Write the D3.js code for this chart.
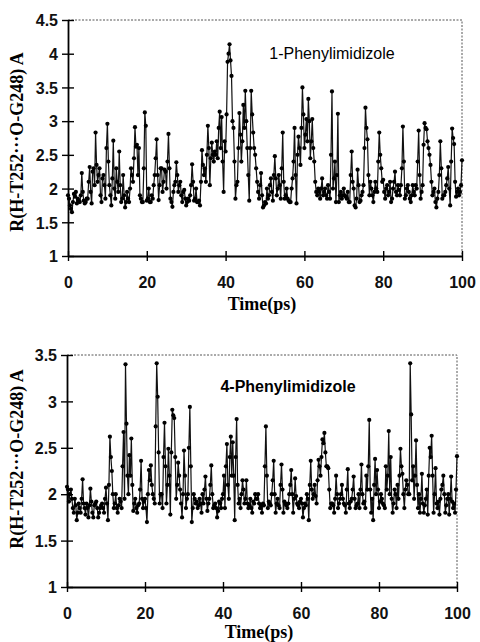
<!DOCTYPE html>
<html>
<head>
<meta charset="utf-8">
<script src="https://cdn.jsdelivr.net/npm/d3@7"></script>
<style>
  html, body { margin: 0; padding: 0; background: #fff; }
  svg { display: block; }
</style>
</head>
<body>
<svg id="chart" width="480" height="642"></svg>
<script>
// ---- Data: samples at t = 0, 0.5, ... 100 ps ("on") and t = 0.25, 0.75, ... 99.75 ps ("mid") ----
const timeStep = 0.5;

const phenyl1 = [
  1.90,1.75,1.65,1.92,1.95,1.85,1.80,2.23,1.82,1.80,
  1.85,2.32,1.78,2.30,2.83,2.10,2.30,1.80,2.20,1.85,
  2.96,2.05,1.75,2.71,1.85,2.10,2.55,1.80,2.20,1.72,
  1.95,1.80,2.30,2.10,2.91,2.65,2.60,1.85,1.80,3.13,
  1.82,2.00,1.80,1.85,2.20,2.73,1.83,2.30,1.95,2.28,
  2.00,2.81,1.85,1.73,2.05,2.39,1.95,2.10,1.80,1.98,
  1.75,1.85,1.90,2.36,1.82,2.00,1.80,1.75,2.57,2.20,
  2.10,2.93,2.05,2.68,2.40,2.50,2.45,3.14,3.06,1.95,
  2.55,3.88,4.14,3.67,2.90,1.85,2.10,3.12,2.40,3.24,
  3.45,2.60,1.82,3.45,2.83,2.50,2.10,1.85,2.23,1.72,
  1.80,2.00,1.90,2.15,1.82,2.48,1.90,2.20,1.85,2.83,
  1.85,2.00,1.82,1.80,2.15,2.90,1.78,2.77,2.35,3.50,
  2.60,3.03,3.33,2.45,3.03,2.40,1.95,2.00,1.85,2.15,
  1.95,1.90,2.05,1.85,3.44,2.15,1.80,3.11,1.90,1.85,
  2.00,1.88,1.95,1.80,2.55,2.00,1.72,2.28,1.80,1.90,
  2.05,3.20,2.73,1.90,2.00,1.80,2.10,1.95,2.83,2.30,
  2.13,1.85,2.05,1.95,1.80,2.00,2.25,1.90,1.98,2.05,
  2.92,1.85,2.00,1.95,1.80,2.05,1.90,2.00,2.86,1.85,
  2.05,2.97,2.88,2.60,2.35,1.90,2.00,1.72,1.95,2.70,
  1.85,1.90,2.05,2.32,1.75,2.89,2.66,1.88,2.00,1.95,
  2.42
];
const phenyl1Mid = [
  1.85,1.70,1.80,1.88,1.78,1.82,1.90,1.95,1.78,1.85,
  2.10,1.95,2.25,2.05,2.35,2.20,1.90,2.15,2.05,2.60,
  2.40,1.90,2.15,2.00,2.30,1.95,2.05,1.85,1.90,1.80,
  1.85,2.00,2.20,2.45,2.62,2.20,1.90,1.80,2.30,2.93,
  1.85,1.80,1.90,2.05,2.45,2.20,2.05,2.30,2.10,2.25,
  2.40,2.30,1.80,1.95,2.10,2.20,2.05,1.90,1.95,1.85,
  1.80,1.82,2.05,2.10,1.85,1.80,1.82,2.10,2.35,2.30,
  2.50,2.60,2.45,2.50,2.55,2.70,2.90,2.60,2.40,2.70,
  3.10,4.00,3.90,3.00,2.40,2.05,2.60,2.80,2.70,2.90,
  3.00,2.20,2.60,3.10,2.60,2.30,1.95,2.05,1.90,1.75,
  1.78,1.85,2.05,1.95,2.20,2.15,2.00,2.05,2.30,2.10,
  1.90,1.85,1.80,2.00,2.40,2.20,2.50,2.60,2.90,3.10,
  2.80,2.70,3.00,2.70,2.60,2.10,1.90,1.95,2.00,1.90,
  2.00,1.85,1.95,2.50,2.00,2.40,2.20,1.80,1.95,1.90,
  1.90,1.85,1.80,2.20,2.10,1.75,1.85,2.05,1.82,1.95,
  2.60,2.90,2.20,2.10,1.90,1.95,2.00,2.40,2.50,2.10,
  1.95,2.00,1.90,2.10,1.85,2.10,1.95,2.05,1.90,2.30,
  2.40,1.90,2.05,1.85,1.90,1.95,2.05,2.40,2.20,1.95,
  2.65,2.90,2.70,2.50,2.10,1.95,1.80,1.85,2.20,2.30,
  1.90,1.95,2.15,2.00,2.40,2.75,2.10,1.95,1.90,2.05
];

const phenyl4 = [
  2.08,1.92,2.05,1.85,1.95,1.72,1.90,1.80,2.16,1.85,
  1.90,1.75,2.06,1.80,1.88,1.92,1.75,1.85,1.90,1.80,
  2.07,1.72,2.62,2.25,1.85,2.00,1.80,1.95,1.85,2.67,
  3.40,2.20,2.42,2.60,1.82,1.95,1.80,1.90,2.36,1.85,
  1.95,1.70,2.26,2.31,2.00,1.90,3.41,2.45,2.00,1.85,
  2.77,1.90,2.49,1.78,2.91,2.82,1.95,2.34,2.05,1.75,
  2.47,1.85,2.00,2.94,1.70,2.00,1.90,1.85,1.95,1.80,
  1.90,2.19,1.82,1.95,2.31,1.85,1.90,1.75,1.92,1.85,
  2.00,1.85,2.54,1.95,2.62,2.56,1.72,2.81,1.90,1.85,
  2.15,1.90,2.15,1.85,1.95,1.80,1.90,1.95,2.00,1.85,
  1.80,1.88,2.73,1.85,1.90,2.00,2.36,1.80,1.95,1.85,
  2.32,1.80,1.90,1.85,2.00,2.26,1.80,2.17,1.90,1.85,
  1.95,1.75,1.90,2.00,1.72,2.36,1.95,2.10,1.90,2.37,
  2.20,2.59,2.66,2.30,2.28,1.85,1.90,1.80,2.20,1.85,
  1.95,2.10,1.90,1.80,2.27,1.85,1.95,2.19,1.85,1.90,
  1.85,2.32,1.90,1.85,2.05,2.80,1.80,1.72,2.38,2.26,
  1.85,2.00,1.90,1.85,2.05,2.68,2.40,1.80,2.05,1.85,
  1.95,2.49,2.22,1.85,2.15,2.00,3.41,2.15,1.95,2.58,
  1.85,1.80,2.22,1.80,1.95,1.78,2.50,2.63,1.80,2.28,
  1.85,1.78,2.05,2.20,1.80,1.95,1.78,2.19,1.85,1.80,
  2.41
];
const phenyl4Mid = [
  2.05,2.00,1.95,1.80,1.88,1.80,1.85,1.95,1.90,1.78,
  1.85,1.88,1.92,1.75,1.90,1.85,1.80,1.88,1.85,1.95,
  1.90,2.10,2.40,2.00,1.90,1.85,1.88,1.92,2.30,1.95,
  2.76,2.00,2.20,2.10,1.90,1.85,1.88,2.05,1.95,1.92,
  1.85,2.00,2.15,2.10,1.95,2.73,3.05,1.90,2.00,2.40,
  2.30,2.10,2.20,2.45,2.85,2.40,2.10,2.20,1.90,2.00,
  2.20,1.95,2.50,2.30,1.85,1.95,1.92,1.88,1.90,2.00,
  2.05,1.95,1.90,2.10,2.00,1.88,1.85,1.82,1.90,1.95,
  2.20,2.30,2.10,2.40,2.20,2.20,2.40,2.10,1.95,2.00,
  2.05,1.95,1.90,1.88,1.85,1.92,2.00,1.95,1.90,1.88,
  1.90,2.30,2.20,1.92,1.88,2.15,2.00,1.90,1.88,2.10,
  2.05,1.92,1.88,1.90,2.10,2.00,1.95,1.98,1.88,1.92,
  1.90,1.85,1.88,1.95,2.10,2.05,2.00,1.98,2.15,2.30,
  2.40,2.55,2.45,2.30,2.05,1.90,1.88,1.95,2.00,1.90,
  2.00,1.95,1.88,2.05,1.90,1.92,2.05,1.95,1.88,2.00,
  2.05,2.00,1.92,2.20,2.30,2.05,1.95,2.10,2.00,2.05,
  1.92,1.95,1.88,2.30,2.20,2.00,1.95,1.90,2.00,2.10,
  2.20,2.30,2.00,2.05,2.10,2.00,2.86,2.30,2.20,2.10,
  2.00,1.95,1.90,1.88,2.05,2.20,2.40,2.20,2.00,1.90,
  1.92,1.95,2.10,2.00,1.88,2.00,1.95,1.92,1.90,2.05
];

const xTicks = [0, 20, 40, 60, 80, 100];
const yTicksTop = [1, 1.5, 2, 2.5, 3, 3.5, 4, 4.5];
const yTicksBottom = [1, 1.5, 2, 2.5, 3, 3.5];
const labelTop = "1-Phenylimidizole";
const labelBottom = "4-Phenylimidizole";
const xTitle = "Time(ps)";
const yTitle = "R(H-T252\u00B7\u00B7\u00B7O-G248) A";

const svg = d3.select("#chart");

function mergeSeries(on, mid) {
  const pts = [];
  on.forEach((v, i) => {
    pts.push({ t: i * timeStep, v });
    if (i < mid.length) pts.push({ t: i * timeStep + timeStep / 2, v: mid[i] });
  });
  return pts;
}

function drawChart(opts) {
  const { pts, yDomain, yTicks, box, label, labelPos, labelWeight, labelSize, xTickY, xTitleY, yTitleY } = opts;
  const x = d3.scaleLinear().domain([0, 100]).range([box.left, box.right]);
  const y = d3.scaleLinear().domain(yDomain).range([box.bottom, box.top]);
  const g = svg.append("g");

  // dotted top/right frame
  g.append("path")
    .attr("d", `M${box.left},${box.top}H${box.right}V${box.bottom}`)
    .attr("fill", "none").attr("stroke", "#555").attr("stroke-width", 1)
    .attr("stroke-dasharray", "2,1.5");

  const tickFont = "Liberation Sans, Arial, Helvetica, sans-serif";

  // y axis
  const yAxis = d3.axisLeft(y).tickValues(yTicks).tickSize(0).tickFormat(d3.format("~g"));
  const ya = g.append("g").attr("transform", `translate(${box.left},0)`).call(yAxis);
  ya.select(".domain").attr("stroke", "#000").attr("stroke-width", 1.8);
  ya.selectAll(".tick line").remove();
  ya.selectAll(".tick").append("line")
    .attr("x1", -6).attr("x2", 6).attr("stroke", "#000").attr("stroke-width", 1.4);
  ya.selectAll(".tick text")
    .attr("x", -10).attr("dy", "0.36em")
    .attr("font-family", tickFont).attr("font-weight", "bold")
    .attr("font-size", 16).attr("fill", "#111");

  // x axis
  const xAxis = d3.axisBottom(x).tickValues(xTicks).tickSize(0).tickFormat(d3.format("d"));
  const xa = g.append("g").attr("transform", `translate(0,${box.bottom})`).call(xAxis);
  xa.select(".domain").attr("stroke", "#000").attr("stroke-width", 1.8);
  xa.selectAll(".tick line").remove();
  xa.selectAll(".tick").append("line")
    .attr("y1", -5).attr("y2", 5).attr("stroke", "#000").attr("stroke-width", 1.4);
  xa.selectAll(".tick text")
    .attr("y", xTickY - box.bottom).attr("dy", "0.36em")
    .attr("font-family", tickFont).attr("font-weight", "bold")
    .attr("font-size", 16).attr("fill", "#111");

  // line + markers
  const line = d3.line().x(d => x(d.t)).y(d => y(d.v));
  g.append("path").datum(pts)
    .attr("d", line).attr("fill", "none")
    .attr("stroke", "#111").attr("stroke-width", 1.2);
  g.selectAll("circle.pt").data(pts).enter().append("circle")
    .attr("class", "pt")
    .attr("cx", d => x(d.t)).attr("cy", d => y(d.v))
    .attr("r", 2.1).attr("fill", "#000");

  // in-plot label
  g.append("text").attr("x", labelPos[0]).attr("y", labelPos[1])
    .attr("text-anchor", "middle").attr("dy", "0.35em")
    .attr("font-family", tickFont)
    .attr("font-size", labelSize).attr("font-weight", labelWeight).attr("fill", "#000")
    .text(label);

  // x title
  g.append("text").attr("x", (box.left + box.right) / 2 - 3).attr("y", xTitleY)
    .attr("text-anchor", "middle").attr("dy", "0.35em")
    .attr("font-family", "Liberation Serif, Times New Roman, serif")
    .attr("font-size", 18).attr("font-weight", "bold").attr("fill", "#000")
    .text(xTitle);

  // y title
  g.append("text")
    .attr("transform", `translate(17,${yTitleY}) rotate(-90)`)
    .attr("text-anchor", "middle").attr("dy", "0.35em")
    .attr("font-family", "Liberation Serif, Times New Roman, serif")
    .attr("font-size", 18).attr("font-weight", "bold").attr("fill", "#000")
    .text(yTitle);
}

drawChart({
  pts: mergeSeries(phenyl1, phenyl1Mid), yDomain: [1, 4.5], yTicks: yTicksTop,
  box: { left: 68, right: 462, top: 20, bottom: 256 },
  label: labelTop, labelPos: [332, 53], labelWeight: "normal", labelSize: 16,
  xTickY: 282, xTitleY: 304, yTitleY: 142
});

drawChart({
  pts: mergeSeries(phenyl4, phenyl4Mid), yDomain: [1, 3.5], yTicks: yTicksBottom,
  box: { left: 67, right: 457, top: 355, bottom: 587 },
  label: labelBottom, labelPos: [288, 386], labelWeight: "bold", labelSize: 16,
  xTickY: 613, xTitleY: 632, yTitleY: 459
});
</script>
</body>
</html>
